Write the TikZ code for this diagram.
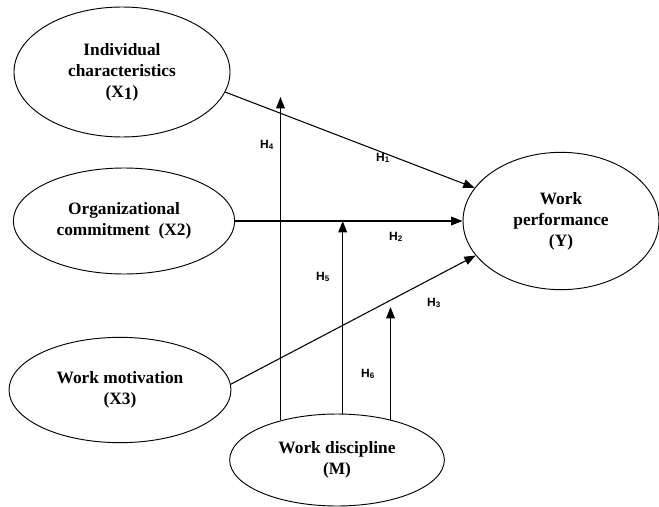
\documentclass[tikz,border=0pt]{standalone}
\usepackage{fontspec}
\setmainfont{Liberation Serif}
\newfontfamily\hfont{Liberation Sans}
\usetikzlibrary{positioning}
\usetikzlibrary{shapes}
\usetikzlibrary{arrows.meta}
\usetikzlibrary{calc}

\tikzset{
  varbox/.style={ellipse, draw, line width=0.7pt, inner sep=0pt, align=center,
    font=\fontsize{13}{15.75}\selectfont\bfseries},
  hyp/.style={font=\hfont\fontsize{9}{10}\selectfont\bfseries, inner sep=1pt},
  path/.style={->, line width=0.8pt}
}

\begin{document}
\begin{tikzpicture}[x=0.75pt, y=-0.75pt, >={Triangle[length=8.5pt,width=6.5pt]}]
\useasboundingbox (0,0) rectangle (659,506);

\node[varbox, minimum width=162pt, minimum height=97.5pt] (x1) at (122,72)
  {Individual\\characteristics\\(X\raisebox{-.25ex}{1})};
\node[varbox, minimum width=166pt, minimum height=79.5pt] (x2) at (124,221)
  {Organizational\\commitment\ \ (X2)};
\node[varbox, minimum width=166.5pt, minimum height=79pt] (x3) at (120,390)
  {Work motivation\\(X3)};
\node[varbox, minimum width=147pt, minimum height=103pt] (y) at (561,221)
  {Work\\performance\\(Y)};
\node[varbox, minimum width=161pt, minimum height=69pt] (m) at (337,460)
  {Work discipline\\(M)};

\coordinate (t4) at (281,97);
\coordinate (t6) at (390,307);

\draw[path] (x1.-11) -- (y.159);
\draw[path] (x2.east) -- (y.west);
\draw[path] (x3.3) -- (y.202);

\draw[path] (m.145) -- (m.145 |- t4);
\draw[path] (m.83) -- (m.83 |- x2.east);
\draw[path] (m.37) -- (m.37 |- t6);

\node[hyp] (h1) at (383,158) {H\textsubscript{1}};
\node[hyp] (h2) at (396,237) {H\textsubscript{2}};
\node[hyp] (h3) at (434,303) {H\textsubscript{3}};
\node[hyp] (h4) at (267,145) {H\textsubscript{4}};
\node[hyp] (h5) at (323,277) {H\textsubscript{5}};
\node[hyp] (h6) at (368,374) {H\textsubscript{6}};
\end{tikzpicture}
\end{document}
